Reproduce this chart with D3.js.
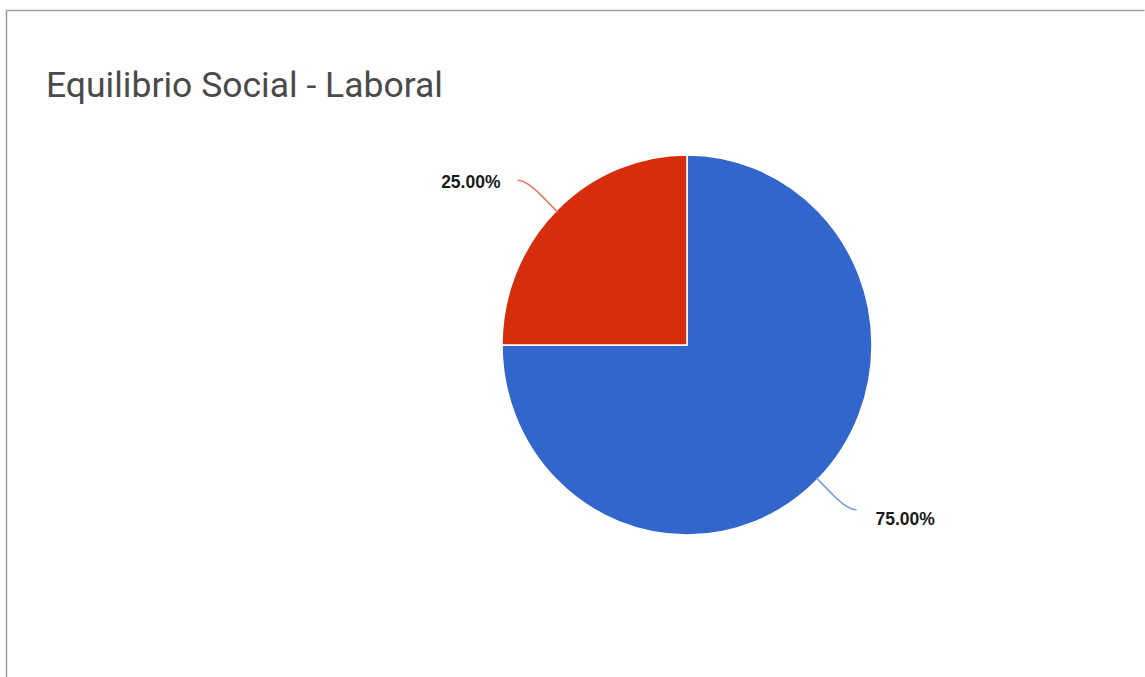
<!DOCTYPE html>
<html>
<head>
<meta charset="utf-8">
<script src="https://cdn.jsdelivr.net/npm/d3@7"></script>
<style>
  html, body { margin: 0; padding: 0; background: #fff; }
  svg { display: block; }
</style>
</head>
<body>
<svg id="chart" width="1145" height="677"></svg>
<script>
// Chart data
const title = "Equilibrio Social - Laboral";
const categories = ["Sí", "No"];
const values = [75, 25];
const colors = ["#3366cc", "#d62e0d"];

const W = 1145, H = 677;
const cx = 687, cy = 345, radius = 185, yStretch = 1.027;

const svg = d3.select("#chart");

// Frame
svg.append("path")
  .attr("d", `M6.5,${H} V10.5 H1144.5`)
  .attr("fill", "none")
  .attr("stroke", "#9e9e9e")
  .attr("stroke-width", 1.5);

// Title
svg.append("text")
  .attr("x", 46)
  .attr("y", 97)
  .attr("font-family", "Roboto, sans-serif")
  .attr("font-size", 35.5)
  .attr("fill", "#4a4a4a")
  .text(title);

const total = d3.sum(values);
const pie = d3.pie().sort(null).value(d => d);
const arcs = pie(values);
const arc = d3.arc().innerRadius(0).outerRadius(radius);

const g = svg.append("g").attr("transform", `translate(${cx},${cy})`);

g.append("g")
  .attr("transform", `scale(1,${yStretch})`)
  .selectAll("path.slice")
  .data(arcs)
  .join("path")
  .attr("class", "slice")
  .attr("d", arc)
  .attr("fill", (d, i) => colors[i])
  .attr("stroke", "#fff")
  .attr("stroke-width", 1.5)
  .attr("vector-effect", "non-scaling-stroke");

// Leader lines and value labels
const fmt = d3.format(".2f");
arcs.forEach((d, i) => {
  const a = (d.startAngle + d.endAngle) / 2;
  const sx = Math.sin(a), sy = -Math.cos(a) * yStretch;
  const side = sx >= 0 ? 1 : -1;
  const p0 = [sx * (radius - 2), sy * (radius - 2)];
  const p1 = [sx * (radius + 42), sy * (radius + 42)];
  const p2 = [p1[0] + side * 9, p1[1]];
  const line = `M${p0[0]},${p0[1]} L${p0[0] + sx * 22},${p0[1] + sy * 22} Q${p1[0]},${p1[1]} ${p2[0]},${p2[1]}`;
  g.append("path")
    .attr("d", line)
    .attr("fill", "none")
    .attr("stroke", d3.interpolateRgb(colors[i], "#fff")(0.35))
    .attr("stroke-width", 1.5);
  g.append("text")
    .attr("x", p2[0] + side * (side > 0 ? 19 : 17))
    .attr("y", p2[1] + (side > 0 ? 15 : 8))
    .attr("text-anchor", side > 0 ? "start" : "end")
    .attr("font-family", "'Liberation Sans', Arial, sans-serif")
    .attr("font-weight", "bold")
    .attr("font-size", 17.5)
    .attr("fill", "#1a1a1a")
    .text(fmt(d.data / total * 100) + "%");
});
</script>
</body>
</html>
